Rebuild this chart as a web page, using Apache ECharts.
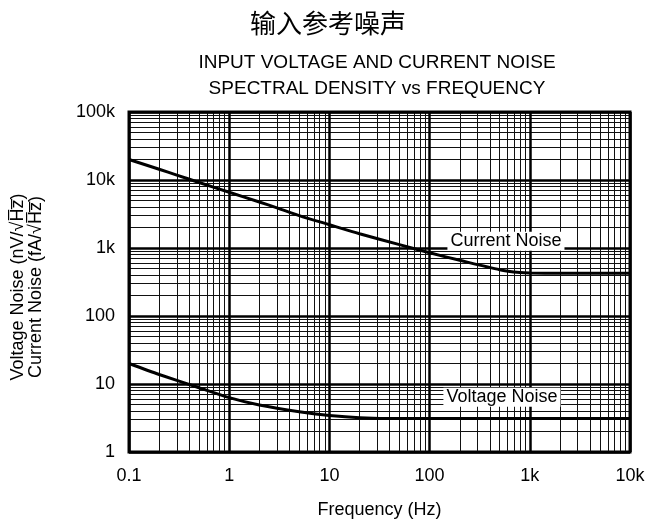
<!DOCTYPE html>
<html>
<head>
<meta charset="utf-8">
<script src="https://cdn.jsdelivr.net/npm/echarts@6/dist/echarts.min.js"></script>
<style>
html,body{margin:0;padding:0;background:#fff;}
#chart{width:645px;height:519px;}
</style>
</head>
<body>
<div id="chart"></div>
<script>
// ---- data ----
var titleText = '输入参考噪声';
var subtitleLines = ['INPUT VOLTAGE AND CURRENT NOISE', 'SPECTRAL DENSITY vs FREQUENCY'];
var xAxisName = 'Frequency (Hz)';
var yAxisNameLines = ['Voltage Noise (nV/\u221AH\u0305z\u0305)', 'Current Noise (fA/\u221AH\u0305z\u0305)'];

var xDecades = [0.1, 1, 10, 100, 1000, 10000];
var xTickLabels = ['0.1', '1', '10', '100', '1k', '10k'];
var yDecades = [1, 10, 100, 1000, 10000, 100000];
var yTickLabels = ['1', '10', '100', '1k', '10k', '100k'];
var minorMultipliers = [2, 3, 4, 5, 6, 7, 8, 9];

var currentFreq  = [0.1, 0.2, 0.3, 0.5, 1, 2, 3, 5, 10, 20, 50, 100, 200, 500, 800, 1000, 2000, 5000, 10000];
var currentNoise = [20000, 14400, 11800, 9200, 6600, 4750, 3900, 3000, 2200, 1620, 1120, 850, 660, 480, 435, 428, 425, 425, 425];

var voltageFreq  = [0.1, 0.2, 0.5, 1, 2, 5, 10, 20, 50, 100, 1000, 10000];
var voltageNoise = [20, 13.8, 8.8, 6.3, 4.9, 3.9, 3.45, 3.2, 3.1, 3.1, 3.1, 3.1];

var curveLabels = ['Current Noise', 'Voltage Noise'];
var curveLabelFreq = [578, 527];
var curveLabelValue = [1260, 6.4];

// ---- build ----
function zip(a, b) { return a.map(function (v, i) { return [v, b[i]]; }); }
function fmt(list, labels) {
  return function (v) {
    for (var i = 0; i < list.length; i++) {
      if (Math.abs(Math.log10(v) - Math.log10(list[i])) < 1e-6) return labels[i];
    }
    return '';
  };
}

var gridLines = [];
xDecades.forEach(function (d, i) {
  if (i < xDecades.length - 1) minorMultipliers.forEach(function (m) {
    gridLines.push({ xAxis: d * m, lineStyle: { color: '#111', width: 1, type: 'solid' } });
  });
});
yDecades.forEach(function (d, i) {
  if (i < yDecades.length - 1) minorMultipliers.forEach(function (m) {
    gridLines.push({ yAxis: d * m, lineStyle: { color: '#111', width: 1, type: 'solid' } });
  });
});
xDecades.forEach(function (d) { gridLines.push({ xAxis: d, lineStyle: { color: '#000', width: 2.5, type: 'solid' } }); });
yDecades.forEach(function (d) { gridLines.push({ yAxis: d, lineStyle: { color: '#000', width: 2.5, type: 'solid' } }); });

var FONT = 'Liberation Sans, Arial, Helvetica, sans-serif';

function curveLabelPoint(i) {
  return {
    silent: true, animation: false,
    symbol: 'rect', symbolSize: 1,
    itemStyle: { color: '#fff' },
    label: { show: true, position: 'inside', fontSize: 18, color: '#000', fontFamily: FONT, backgroundColor: '#fff', padding: [1, 3, 0, 3] },
    data: [{ name: curveLabels[i], coord: [curveLabelFreq[i], curveLabelValue[i]], label: { formatter: curveLabels[i] } }]
  };
}

var chart = echarts.init(document.getElementById('chart'), null, { renderer: 'canvas' });
chart.setOption({
  animation: false,
  backgroundColor: '#fff',
  textStyle: { fontFamily: FONT, color: '#000' },
  graphic: [
    { type: 'text', x: 328, y: 23, style: { text: titleText, fill: '#000', fontSize: 26, fontFamily: 'Noto Sans CJK SC', align: 'center', verticalAlign: 'middle' } },
    { type: 'text', x: 377, y: 76, style: { text: subtitleLines.join('\n'), fill: '#000', fontSize: 19, lineHeight: 26, fontFamily: FONT, align: 'center', verticalAlign: 'middle' } },
    { type: 'text', x: 27, y: 287, rotation: Math.PI / 2, style: { text: yAxisNameLines.join('\n'), fill: '#000', fontSize: 18, lineHeight: 18, fontFamily: FONT, align: 'center', verticalAlign: 'middle' } }
  ],
  grid: { left: 129, right: 15, top: 112, bottom: 67, show: true, borderColor: '#000', borderWidth: 3, backgroundColor: 'transparent', containLabel: false, outerBoundsMode: 'none' },
  xAxis: {
    type: 'log', logBase: 10, min: 0.1, max: 10000,
    name: xAxisName, nameLocation: 'middle', nameGap: 49,
    nameTextStyle: { fontSize: 18, color: '#000', fontFamily: FONT },
    axisLine: { show: false }, axisTick: { show: false }, splitLine: { show: false },
    axisLabel: { fontSize: 18, color: '#000', margin: 15, formatter: fmt(xDecades, xTickLabels), showMinLabel: true, showMaxLabel: true }
  },
  yAxis: {
    type: 'log', logBase: 10, min: 1, max: 100000,
    axisLine: { show: false }, axisTick: { show: false }, splitLine: { show: false },
    axisLabel: { fontSize: 18, color: '#000', margin: 14, formatter: fmt(yDecades, yTickLabels), showMinLabel: true, showMaxLabel: true }
  },
  series: [
    {
      type: 'line', data: [], silent: true, z: 1,
      markLine: { silent: true, symbol: ['none', 'none'], label: { show: false }, animation: false, data: gridLines }
    },
    {
      type: 'line', name: 'Current Noise', data: zip(currentFreq, currentNoise), smooth: 0.25,
      showSymbol: false, lineStyle: { color: '#000', width: 3 }, z: 5,
      markPoint: curveLabelPoint(0)
    },
    {
      type: 'line', name: 'Voltage Noise', data: zip(voltageFreq, voltageNoise), smooth: 0.25,
      showSymbol: false, lineStyle: { color: '#000', width: 3 }, z: 5,
      markPoint: curveLabelPoint(1)
    }
  ]
});
</script>
</body>
</html>
